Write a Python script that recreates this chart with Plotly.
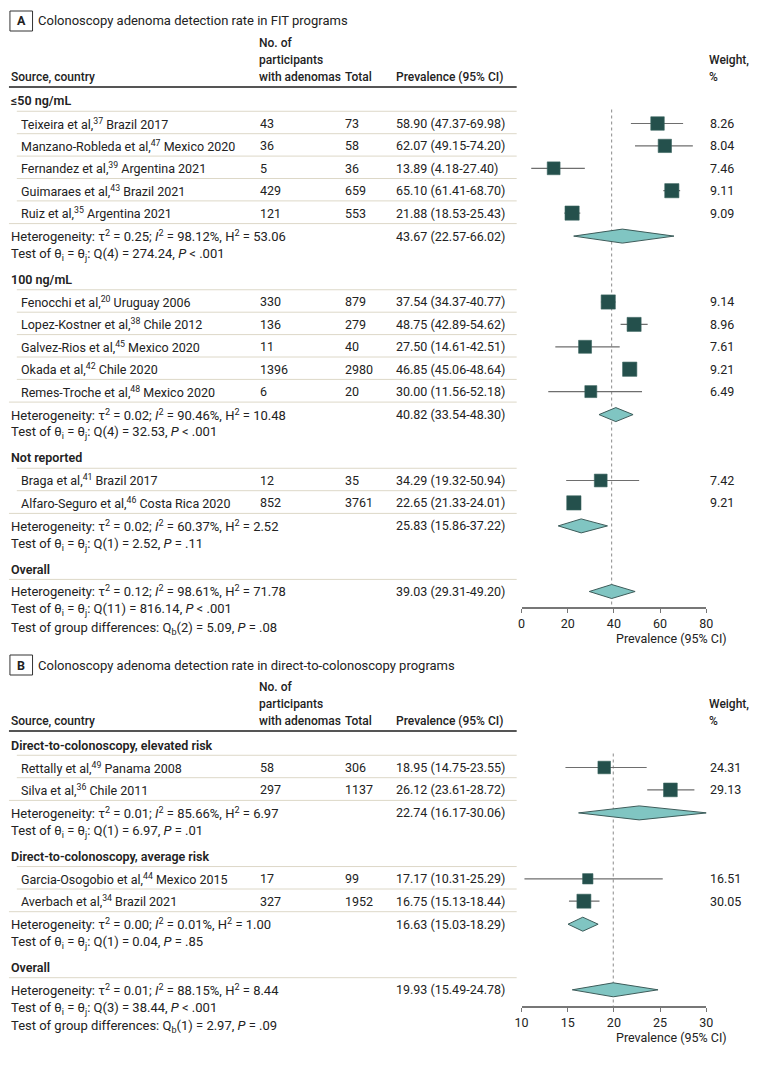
import plotly.graph_objects as go

W, H = 780, 1065

# ---------------- panel A data: FIT programs ----------------
a_group_names = ["≤50 ng/mL", "100 ng/mL", "Not reported"]
a_studies = [
    "Teixeira et al,<sup>37</sup> Brazil 2017",
    "Manzano-Robleda et al,<sup>47</sup> Mexico 2020",
    "Fernandez et al,<sup>39</sup> Argentina 2021",
    "Guimaraes et al,<sup>43</sup> Brazil 2021",
    "Ruiz et al,<sup>35</sup> Argentina 2021",
    "Fenocchi et al,<sup>20</sup> Uruguay 2006",
    "Lopez-Kostner et al,<sup>38</sup> Chile 2012",
    "Galvez-Rios et al,<sup>45</sup> Mexico 2020",
    "Okada et al,<sup>42</sup> Chile 2020",
    "Remes-Troche et al,<sup>48</sup> Mexico 2020",
    "Braga et al,<sup>41</sup> Brazil 2017",
    "Alfaro-Seguro et al,<sup>46</sup> Costa Rica 2020",
]
a_study_group = [0, 0, 0, 0, 0, 1, 1, 1, 1, 1, 2, 2]
a_events = [43, 36, 5, 429, 121, 330, 136, 11, 1396, 6, 12, 852]
a_totals = [73, 58, 36, 659, 553, 879, 279, 40, 2980, 20, 35, 3761]
a_prev = [58.90, 62.07, 13.89, 65.10, 21.88, 37.54, 48.75, 27.50, 46.85, 30.00, 34.29, 22.65]
a_lower = [47.37, 49.15, 4.18, 61.41, 18.53, 34.37, 42.89, 14.61, 45.06, 11.56, 19.32, 21.33]
a_upper = [69.98, 74.20, 27.40, 68.70, 25.43, 40.77, 54.62, 42.51, 48.64, 52.18, 50.94, 24.01]
a_weight = [8.26, 8.04, 7.46, 9.11, 9.09, 9.14, 8.96, 7.61, 9.21, 6.49, 7.42, 9.21]
# pooled: subgroups then overall
a_pool_prev = [43.67, 40.82, 25.83, 39.03]
a_pool_lower = [22.57, 33.54, 15.86, 29.31]
a_pool_upper = [66.02, 48.30, 37.22, 49.20]
a_tau2 = ["0.25", "0.02", "0.02", "0.12"]
a_i2 = ["98.12", "90.46", "60.37", "98.61"]
a_h2 = ["53.06", "10.48", "2.52", "71.78"]
a_q_df = ["4", "4", "1", "11"]
a_q = ["274.24", "32.53", "2.52", "816.14"]
a_p = ["< .001", "< .001", "= .11", "< .001"]
a_qb = ["2", "5.09", "= .08"]
a_ticks = [0, 20, 40, 60, 80]

# ---------------- panel B data: direct-to-colonoscopy ----------------
b_group_names = ["Direct-to-colonoscopy, elevated risk", "Direct-to-colonoscopy, average risk"]
b_studies = [
    "Rettally et al,<sup>49</sup> Panama 2008",
    "Silva et al,<sup>36</sup> Chile 2011",
    "Garcia-Osogobio et al,<sup>44</sup> Mexico 2015",
    "Averbach et al,<sup>34</sup> Brazil 2021",
]
b_study_group = [0, 0, 1, 1]
b_events = [58, 297, 17, 327]
b_totals = [306, 1137, 99, 1952]
b_prev = [18.95, 26.12, 17.17, 16.75]
b_lower = [14.75, 23.61, 10.31, 15.13]
b_upper = [23.55, 28.72, 25.29, 18.44]
b_weight = [24.31, 29.13, 16.51, 30.05]
b_pool_prev = [22.74, 16.63, 19.93]
b_pool_lower = [16.17, 15.03, 15.49]
b_pool_upper = [30.06, 18.29, 24.78]
b_tau2 = ["0.01", "0.00", "0.01"]
b_i2 = ["85.66", "0.01", "88.15"]
b_h2 = ["6.97", "1.00", "8.44"]
b_q_df = ["1", "1", "3"]
b_q = ["6.97", "0.04", "38.44"]
b_p = ["= .01", "= .85", "< .001"]
b_qb = ["1", "2.97", "= .09"]
b_ticks = [10, 15, 20, 25, 30]

FONT = "Roboto"
FS = 12.5
HS = 12  # column header size
STAT = 13  # heterogeneity / test lines
TXT = "#222222"
SQUARE = "#24504c"
DIAMOND = "#80c5c2"
RULE = "#ddd8c8"

fig = go.Figure()
annotations = []
shapes = []


def px(x):
    return x / W


def py(y):
    return 1 - y / H


def text(x, y, s, size=FS, anchor="left", weight=400):
    annotations.append(dict(x=px(x), y=py(y), xref="paper", yref="paper", text=s,
                            showarrow=False, xanchor=anchor, yanchor="middle",
                            font=dict(family=FONT, size=size, color=TXT, weight=weight)))


def hline(x0, x1, y, color, width):
    shapes.append(dict(type="line", xref="paper", yref="paper", x0=px(x0), x1=px(x1),
                       y0=py(y), y1=py(y), line=dict(color=color, width=width)))


GAPS = {("test", "header"): 25, ("header", "study"): 22.5, ("study", "study"): 22.4,
        ("study", "het"): 23, ("het", "test"): 18.4, ("test", "test"): 18.4,
        ("header", "het"): 22.2}


def layout_rows(n_groups, study_group, start_y):
    rows = []
    state = {"y": start_y, "prev": None}

    def add(kind, idx):
        if state["prev"] is not None:
            state["y"] += GAPS[(state["prev"], kind)]
        rows.append((kind, idx, state["y"]))
        state["prev"] = kind

    for g in range(n_groups):
        add("header", g)
        for i, sg in enumerate(study_group):
            if sg == g:
                add("study", i)
        add("het", g)
        add("test", g)
    add("header", n_groups)
    add("het", n_groups)
    add("test", n_groups)
    add("test", "groups")
    return rows


def panel(letter, title, top, d, xa, ya, size_k):
    # title box + column headers
    shapes.append(dict(type="rect", xref="paper", yref="paper", x0=px(3), x1=px(26),
                       y0=py(top - 10), y1=py(top + 10), line=dict(color="#333", width=1)))
    text(14.5, top, letter, size=12.5, anchor="center", weight=700)
    text(30, top, title, size=13)
    ul = top + 66
    text(255, ul - 44, "No. of", size=HS, weight=500)
    text(255, ul - 27, "participants", size=HS, weight=500)
    text(255, ul - 10, "with adenomas", size=HS, weight=500)
    text(2, ul - 10, "Source, country", size=HS, weight=500)
    text(342, ul - 10, "Total", size=HS, weight=500)
    text(394, ul - 10, "Prevalence (95% CI)", size=HS, weight=500)
    text(713, ul - 27, "Weight,", size=HS, weight=500)
    text(713, ul - 10, "%", size=HS, weight=500)
    hline(2, 519, ul, "#555555", 2)

    rows = layout_rows(len(d["groups"]), d["study_group"], ul + 14)
    ci_x, ci_y, sq_x, sq_y, sq_s = [], [], [], [], []
    dm_x, dm_y = [], []
    first_study_y = None
    prev_y = None
    for kind, idx, y in rows:
        if kind == "header":
            name = d["groups"][idx] if idx < len(d["groups"]) else "Overall"
            text(2, y, name, weight=600)
        elif kind == "study":
            if first_study_y is None:
                first_study_y = y
            hline(10, 519, (prev_y + y) / 2 - 1, RULE, 1)
            text(12, y, d["studies"][idx])
            text(256, y, str(d["events"][idx]))
            text(342, y, str(d["totals"][idx]))
            text(394, y, f"{d['prev'][idx]:.2f} ({d['lower'][idx]:.2f}-{d['upper'][idx]:.2f})")
            text(714, y, f"{d['weight'][idx]:.2f}")
            ci_x += [d["lower"][idx], d["upper"][idx], None]
            ci_y += [y, y, None]
            sq_x.append(d["prev"][idx])
            sq_y.append(y)
            sq_s.append(size_k * d["weight"][idx] ** 0.5)
        elif kind == "het":
            hline(2, 519, (prev_y + y) / 2 - 1, RULE, 1)
            text(2, y, f"Heterogeneity: τ<sup>2</sup> = {d['tau2'][idx]}; "
                       f"<i>I</i><sup>2</sup> = {d['i2'][idx]}%, H<sup>2</sup> = {d['h2'][idx]}",
                 size=STAT)
            text(394, y, f"{d['pool_prev'][idx]:.2f} ({d['pool_lower'][idx]:.2f}-{d['pool_upper'][idx]:.2f})")
            lo, mid, hi = d["pool_lower"][idx], d["pool_prev"][idx], d["pool_upper"][idx]
            dm_x += [lo, mid, hi, mid, lo, None]
            dm_y += [y, y - 7, y, y + 7, y, None]
        else:
            if idx == "groups":
                qb = d["qb"]
                text(2, y, f"Test of group differences: Q<sub>b</sub>({qb[0]}) = {qb[1]}, <i>P</i> {qb[2]}",
                     size=STAT)
            else:
                text(2, y, f"Test of θ<sub>i</sub> = θ<sub>j</sub>: Q({d['q_df'][idx]}) = {d['q'][idx]}, "
                           f"<i>P</i> {d['p'][idx]}", size=STAT)
        prev_y = y

    axis_y = d["axis_y"]
    overall = d["pool_prev"][-1]
    fig.add_trace(go.Scatter(x=[overall, overall], y=[first_study_y - 14, axis_y], mode="lines",
                             line=dict(color="#8a8a8a", width=1, dash="dot"),
                             xaxis=xa, yaxis=ya, hoverinfo="skip"))
    fig.add_trace(go.Scatter(x=ci_x, y=ci_y, mode="lines", line=dict(color="#6e6e6e", width=1.2),
                             xaxis=xa, yaxis=ya, hoverinfo="skip"))
    fig.add_trace(go.Scatter(x=sq_x, y=sq_y, mode="markers",
                             marker=dict(symbol="square", size=sq_s, color=SQUARE, opacity=1,
                                         line=dict(color="#3a6460", width=0.6)),
                             xaxis=xa, yaxis=ya, cliponaxis=False))
    fig.add_trace(go.Scatter(x=dm_x, y=dm_y, mode="lines", fill="toself", fillcolor=DIAMOND,
                             line=dict(color="#3d5c5a", width=1), xaxis=xa, yaxis=ya,
                             hoverinfo="skip"))
    text(618, axis_y + 31, "Prevalence (95% CI)")


data_a = dict(groups=a_group_names, studies=a_studies, study_group=a_study_group,
              events=a_events, totals=a_totals, prev=a_prev, lower=a_lower, upper=a_upper,
              weight=a_weight, pool_prev=a_pool_prev, pool_lower=a_pool_lower,
              pool_upper=a_pool_upper, tau2=a_tau2, i2=a_i2, h2=a_h2, q_df=a_q_df, q=a_q,
              p=a_p, qb=a_qb, axis_y=607)
data_b = dict(groups=b_group_names, studies=b_studies, study_group=b_study_group,
              events=b_events, totals=b_totals, prev=b_prev, lower=b_lower, upper=b_upper,
              weight=b_weight, pool_prev=b_pool_prev, pool_lower=b_pool_lower,
              pool_upper=b_pool_upper, tau2=b_tau2, i2=b_i2, h2=b_h2, q_df=b_q_df, q=b_q,
              p=b_p, qb=b_qb, axis_y=1006)

panel("A", "Colonoscopy adenoma detection rate in FIT programs", 21, data_a, "x", "y", 4.7)
panel("B", "Colonoscopy adenoma detection rate in direct-to-colonoscopy programs", 665,
      data_b, "x2", "y2", 2.55)

axis_style = dict(showgrid=False, zeroline=False, showline=True, linecolor="#777777",
                  linewidth=1.5, ticks="outside", ticklen=4, tickcolor="#777777", tickwidth=1.2,
                  tickfont=dict(family=FONT, size=FS, color=TXT), fixedrange=True)

fig.update_layout(
    width=W, height=H,
    margin=dict(l=0, r=0, t=0, b=0),
    paper_bgcolor="white", plot_bgcolor="white",
    showlegend=False,
    xaxis=dict(domain=[px(524), px(712)], range=[0, 80], tickvals=a_ticks, anchor="y", **axis_style),
    yaxis=dict(domain=[py(607), 1], range=[607, 0], visible=False),
    xaxis2=dict(domain=[px(524), px(712)], range=[10, 30], tickvals=b_ticks, anchor="y2", **axis_style),
    yaxis2=dict(domain=[py(1006), py(650)], range=[1006, 650], visible=False),
    annotations=annotations,
    shapes=shapes,
)

# drop the browser's default 8px body margin so the figure sits at the page origin
fig.write_html("out.html", config={"displayModeBar": False},
               post_script="document.body.style.margin='0';")
